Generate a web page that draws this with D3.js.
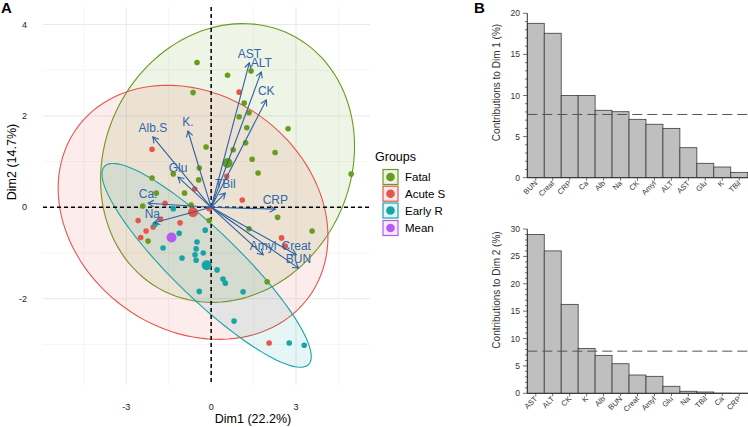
<!DOCTYPE html>
<html><head><meta charset="utf-8">
<script src="https://cdn.jsdelivr.net/npm/d3@7"></script>
<style>body{margin:0;background:#fff;} svg{display:block;font-family:"Liberation Sans",Arial,sans-serif;}</style>
</head><body><svg id="c" width="748" height="427"></svg>
<script>
// ---------- DATA ----------
const groupNames = ["Fatal", "Acute S", "Early R", "Mean"];
const groupColors = ["#689c1e", "#e8554b", "#17a4a7", "#b45cf0"];

const fatalX = [-0.50,0.58,1.41,-0.64,1.17,0.99,1.34,1.26,2.72,-0.18,1.22,0.78,2.26,1.45,1.66,4.95,-0.42,-1.34,-0.44,-2.09,-0.94,-1.94,-2.42,-0.71,-0.07,2.35,1.34,3.57,-2.23,1.98];
const fatalY = [3.17,2.89,2.98,2.51,2.28,1.98,2.07,1.74,1.72,1.32,1.41,1.26,1.20,1.05,0.75,0.73,0.86,0.73,0.60,0.64,0.31,0.31,0.03,0.05,-0.29,-0.22,-0.47,-0.52,-0.74,-1.63];
const acuteX = [0.99,-2.09,0.55,-0.58,1.10,-1.63,-0.07,-2.58,-1.79,-1.10,-2.05,-2.30,-2.49,2.49,2.62,2.05];
const acuteY = [2.52,1.27,0.68,0.40,0.16,0.09,-0.03,-0.29,-0.26,-0.34,-0.43,-0.52,-0.66,-0.67,-0.85,-2.97];
const earlyX = [-1.34,-1.98,-1.13,-0.21,-1.70,-0.50,-0.53,-0.28,-0.57,-1.03,-0.53,0.21,0.42,0.50,-0.42,1.13,0.81,2.76,3.29];
const earlyY = [-0.03,-0.37,-0.57,-0.50,-0.89,-0.76,-0.91,-1.00,-1.04,-1.11,-1.16,-1.37,-1.57,-1.66,-1.84,-1.85,-2.49,-2.97,-3.02];

// group means (large points) : Fatal, Acute S, Early R, overall Mean
const meanX = [0.58, -0.64, -0.16, -1.40];
const meanY = [0.97, -0.11, -1.27, -0.66];

// ellipse shape per group (half-widths in data units, correlation)
const ellSX = [4.49, 4.77, 3.70];
const ellSY = [3.05, 2.78, 2.23];
const ellRho = [0.12, -0.19, -0.895];

// variable loadings (arrows)
const varNames = ["AST","ALT","CK","Alb.S","K.","Glu","Ca.","Na.","TBil","CRP","Amyl","Creat","BUN"];
const varDim1 = [1.35,1.77,1.95,-2.06,-0.82,-1.17,-2.23,-2.02,0.50,2.27,1.84,3.01,3.09];
const varDim2 = [3.16,2.96,2.35,1.54,1.67,0.66,0.09,-0.34,0.31,-0.04,-1.04,-1.04,-1.33];

const xTicksA = [-3, 0, 3];
const yTicksA = [-2, 0, 2, 4];
const xMinorA = [-4.5, -1.5, 1.5, 4.5];
const yMinorA = [-3, -1, 1, 3];

// contributions
const dim1Labels = ["BUN","Creat","CRP","Ca","Alb","Na","CK","Amyl","ALT","AST","Glu","K","TBil"];
const dim1Values = [18.78,17.57,10.0,10.0,8.2,8.03,7.1,6.5,6.0,3.65,1.75,1.3,0.65];
const dim2Labels = ["AST","ALT","CK","K","Alb","BUN","Creat","Amyl","Glu","Na","TBil","Ca","CRP"];
const dim2Values = [29.0,26.0,16.24,8.2,6.93,5.4,3.34,3.1,1.28,0.37,0.24,0.03,0.01];
const dim1Ticks = [0,5,10,15,20];
const dim2Ticks = [0,5,10,15,20,25,30];
const expectedContrib = 100 / 13;

// ---------- PANEL A ----------
const svg = d3.select("#c");
const x = d3.scaleLinear().domain([-3, 3]).range([126.3, 296]);
const y = d3.scaleLinear().domain([-2, 4]).range([298.7, 24.5]);
const pL = 43, pR = 370, pT = 7, pB = 385;
const A = svg.append("g");

// grid
A.selectAll(".gxm").data(xMinorA).join("line").attr("x1", d=>x(d)).attr("x2", d=>x(d)).attr("y1", pT).attr("y2", pB).attr("stroke", "#f1f1f1").attr("stroke-width", 0.7);
A.selectAll(".gym").data(yMinorA).join("line").attr("y1", d=>y(d)).attr("y2", d=>y(d)).attr("x1", pL).attr("x2", pR).attr("stroke", "#f1f1f1").attr("stroke-width", 0.7);
A.selectAll(".gx").data(xTicksA).join("line").attr("x1", d=>x(d)).attr("x2", d=>x(d)).attr("y1", pT).attr("y2", pB).attr("stroke", "#e9e9e9").attr("stroke-width", 1);
A.selectAll(".gy").data(yTicksA).join("line").attr("y1", d=>y(d)).attr("y2", d=>y(d)).attr("x1", pL).attr("x2", pR).attr("stroke", "#e9e9e9").attr("stroke-width", 1);

// ellipses
const line = d3.line().x(d=>x(d[0])).y(d=>y(d[1]));
[0,1,2].forEach(g => {
  const pts = d3.range(0, 121).map(i => {
    const t = i / 120 * 2 * Math.PI;
    const r = ellRho[g];
    return [meanX[g] + ellSX[g] * Math.cos(t),
            meanY[g] + ellSY[g] * (r * Math.cos(t) + Math.sqrt(1 - r*r) * Math.sin(t))];
  });
  A.append("path").attr("d", line(pts) + "Z")
    .attr("fill", groupColors[g]).attr("fill-opacity", 0.11)
    .attr("stroke", groupColors[g]).attr("stroke-width", 1.1);
});

// dashed zero lines
A.append("line").attr("x1", pL).attr("x2", pR).attr("y1", y(0)).attr("y2", y(0)).attr("stroke", "#000").attr("stroke-width", 1.5).attr("stroke-dasharray", "4,3");
A.append("line").attr("x1", x(0)).attr("x2", x(0)).attr("y1", pT).attr("y2", pB).attr("stroke", "#000").attr("stroke-width", 1.5).attr("stroke-dasharray", "4,3");

// points
const sets = [[fatalX, fatalY], [acuteX, acuteY], [earlyX, earlyY]];
sets.forEach((s, g) => {
  A.selectAll(null).data(d3.range(s[0].length)).join("circle")
    .attr("cx", i => x(s[0][i])).attr("cy", i => y(s[1][i])).attr("r", 2.8)
    .attr("fill", groupColors[g]);
});
A.selectAll(null).data(d3.range(4)).join("circle")
  .attr("cx", i => x(meanX[i])).attr("cy", i => y(meanY[i])).attr("r", 5)
  .attr("fill", i => groupColors[i]);

// arrows
const arrowCol = "#2b62a3";
varNames.forEach((n, i) => {
  const x0 = x(0), y0 = y(0), x1 = x(varDim1[i]), y1 = y(varDim2[i]);
  const ang = Math.atan2(y1 - y0, x1 - x0);
  const L = 6.5, a = Math.PI / 6;
  const h1 = [x1 - L * Math.cos(ang - a), y1 - L * Math.sin(ang - a)];
  const h2 = [x1 - L * Math.cos(ang + a), y1 - L * Math.sin(ang + a)];
  A.append("line").attr("x1", x0).attr("y1", y0).attr("x2", x1).attr("y2", y1).attr("stroke", arrowCol).attr("stroke-width", 1.1);
  A.append("path").attr("d", `M${h1[0]},${h1[1]}L${x1},${y1}L${h2[0]},${h2[1]}`).attr("fill", "none").attr("stroke", arrowCol).attr("stroke-width", 1.1);
  A.append("text").attr("x", x1).attr("y", y1 - 5).attr("text-anchor", "middle").attr("font-size", 12).attr("fill", "#2f68a8").text(n);
});

// axes text
A.selectAll(null).data(xTicksA).join("text").attr("x", d=>x(d)).attr("y", 410).attr("text-anchor", "middle").attr("font-size", 9).attr("fill", "#222").text(d=>d);
A.selectAll(null).data(yTicksA).join("text").attr("x", 27).attr("y", d=>y(d)+3).attr("text-anchor", "end").attr("font-size", 9).attr("fill", "#222").text(d=>d);
A.append("text").attr("x", 253).attr("y", 423).attr("text-anchor", "middle").attr("font-size", 12.5).text("Dim1 (22.2%)");
A.append("text").attr("transform", "translate(16,162) rotate(-90)").attr("text-anchor", "middle").attr("font-size", 12.5).text("Dim2 (14.7%)");
svg.append("text").attr("x", 1).attr("y", 13).attr("font-size", 15).attr("font-weight", "bold").text("A");

// legend
const lg = svg.append("g");
lg.append("text").attr("x", 375).attr("y", 161).attr("font-size", 12.5).text("Groups");
const legY = [177, 193.7, 210.5, 228];
groupNames.forEach((n, i) => {
  lg.append("rect").attr("x", 383).attr("y", legY[i] - 7.5).attr("width", 15).attr("height", 15)
    .attr("fill", groupColors[i]).attr("fill-opacity", 0.12).attr("stroke", groupColors[i]).attr("stroke-width", 1.2);
  lg.append("circle").attr("cx", 390.5).attr("cy", legY[i]).attr("r", 4.3).attr("fill", groupColors[i]);
  lg.append("text").attr("x", 405).attr("y", legY[i] + 4).attr("font-size", 11.5).text(n);
});

// ---------- PANEL B ----------
function bars(labels, values, ticks, yTop, yBot, yMax, title, titleY) {
  const g = svg.append("g");
  const xb = d3.scaleBand().domain(labels).range([527.3, 747.7]).padding(0);
  const yb = d3.scaleLinear().domain([0, yMax]).range([yBot, yTop]);
  g.selectAll(null).data(labels).join("rect")
    .attr("x", d => xb(d)).attr("width", xb.bandwidth())
    .attr("y", (d, i) => yb(values[i])).attr("height", (d, i) => yb(0) - yb(values[i]))
    .attr("fill", "#bfbfbf").attr("stroke", "#3c3c3c").attr("stroke-width", 0.8);
  g.append("line").attr("x1", 527.3).attr("x2", 748).attr("y1", yb(expectedContrib)).attr("y2", yb(expectedContrib))
    .attr("stroke", "#555").attr("stroke-width", 1).attr("stroke-dasharray", "10,5");
  // axes
  g.append("line").attr("x1", 527.3).attr("x2", 527.3).attr("y1", yb(yMax)).attr("y2", yb(0)).attr("stroke", "#333");
  g.append("line").attr("x1", 527.3).attr("x2", 748).attr("y1", yb(0)).attr("y2", yb(0)).attr("stroke", "#333");
  g.selectAll(null).data(d3.range(0, yMax + 1)).join("line")
    .attr("x1", d => d % 5 === 0 ? 523 : 525).attr("x2", 527.3).attr("y1", d => yb(d)).attr("y2", d => yb(d)).attr("stroke", "#333").attr("stroke-width", 0.7);
  g.selectAll(null).data(ticks).join("text").attr("x", 520).attr("y", d => yb(d) + 3).attr("text-anchor", "end")
    .attr("font-size", 8.5).attr("fill", "#333").text(d => d);
  g.selectAll(null).data(labels).join("line")
    .attr("x1", d => xb(d) + xb.bandwidth()/2).attr("x2", d => xb(d) + xb.bandwidth()/2)
    .attr("y1", yb(0)).attr("y2", yb(0) + 3).attr("stroke", "#333").attr("stroke-width", 0.7);
  g.selectAll(null).data(labels).join("text")
    .attr("transform", d => `translate(${xb(d) + xb.bandwidth()/2 + 2},${yb(0) + 6}) rotate(-45)`)
    .attr("text-anchor", "end").attr("font-size", 7.5).attr("fill", "#333").text(d => d);
  g.append("text").attr("transform", `translate(500,${titleY}) rotate(-90)`).attr("text-anchor", "middle")
    .attr("font-size", 10).attr("fill", "#333").text(title);
}
bars(dim1Labels, dim1Values, dim1Ticks, 13.3, 177.7, 20, "Contributions to Dim 1 (%)", 82.5);
bars(dim2Labels, dim2Values, dim2Ticks, 229, 393.3, 30, "Contributions to Dim 2 (%)", 290);
svg.append("text").attr("x", 474).attr("y", 13).attr("font-size", 15).attr("font-weight", "bold").text("B");
</script></body></html>
